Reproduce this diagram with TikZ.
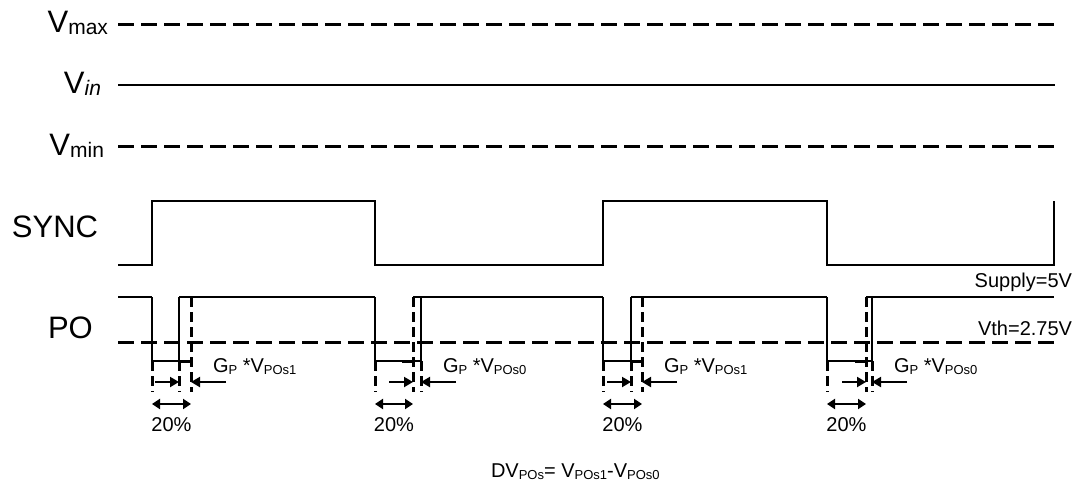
\documentclass[tikz,border=0pt]{standalone}
\usepackage{fontspec}
\setmainfont{Liberation Sans}
\usetikzlibrary{arrows.meta}
\newcommand{\bigtxt}[1]{{\fontsize{31}{31}\selectfont #1}}
\newcommand{\bsub}[1]{\raisebox{-2pt}{\fontsize{21}{21}\selectfont #1}}
\newcommand{\smtxt}[1]{{\fontsize{20}{20}\selectfont #1}}
\newcommand{\lsub}[1]{\raisebox{-2pt}{\fontsize{13}{13}\selectfont #1}}
\tikzset{
  sig/.style={line width=2pt},
  hdash/.style={line width=3pt, dash pattern=on 16pt off 7pt},
  vdash/.style={line width=3pt, dash pattern=on 10pt off 5pt},
  arr/.style={line width=2pt, -{Triangle[length=9pt,width=10pt]}},
  darr/.style={line width=2pt, {Triangle[length=8pt,width=10pt]}-{Triangle[length=8pt,width=10pt]}},
  lbl/.style={inner sep=0pt, outer sep=0pt},
}
\begin{document}
\begin{tikzpicture}[x=1pt,y=-1pt]
\useasboundingbox (0,0) rectangle (1078,488);
% left labels
\node[lbl, anchor=base east] (vmax) at (108,32) {\bigtxt{V}\bsub{max}};
\node[lbl, anchor=base east] (vin) at (101,93) {\bigtxt{V}\bsub{\itshape in}};
\node[lbl, anchor=base east] (vmin) at (104,155) {\bigtxt{V}\bsub{min}};
\node[lbl, anchor=base west] (sync) at (12,237) {\bigtxt{SYNC}};
\node[lbl, anchor=base west] (po) at (48,338) {\bigtxt{PO}};
% reference levels
\coordinate (vmaxA) at (118,24); \coordinate (vmaxB) at (1055,24);
\coordinate (vinA) at (118,85); \coordinate (vinB) at (1055,85);
\coordinate (vminA) at (118,146); \coordinate (vminB) at (1055,146);
\coordinate (vthA) at (118,342); \coordinate (vthB) at (1054,342);
\draw[hdash] (vmaxA) -- (vmaxB);
\draw[sig] (vinA) -- (vinB);
\draw[hdash] (vminA) -- (vminB);
\draw[hdash] (vthA) -- (vthB);
% SYNC
\draw[sig] (118,265) -- (152,265) -- (152,201) -- (375,201) -- (375,265) -- (603,265)
  -- (603,201) -- (827,201) -- (827,265) -- (1054,265) -- (1054,201);
% PO top segments
\draw[sig] (118,297) -- (152,297);
\draw[sig] (179,297) -- (375,297);
\draw[sig] (413,297) -- (603,297);
\draw[sig] (631,297) -- (827,297);
\draw[sig] (866,297) -- (1054,297);
% pulses
\foreach \f/\s/\d/\lab in {152/179/191/1, 375/421/413/0, 603/631/642/1, 827/872/866/0}{
  \pgfmathsetmacro\a{min(\s,\d)}
  \pgfmathsetmacro\b{max(\s,\d)}
  \pgfmathsetmacro\m{(\f+\d)/2}
  \draw[sig] (\f,297) -- (\f,361) -- (\b,361);
  \draw[sig] (\s,361) -- (\s,297);
  \draw[line width=3pt] (\d-11,361) -- (\d,361);
  \draw[vdash] (\d,297) -- (\d,392);
  \draw[vdash] (\f,361) -- (\f,392);
  \draw[vdash] (\s,361) -- (\s,392);
  \draw[arr] (\a-24,382) -- (\a,382);
  \draw[arr] (\b+35,382) -- (\b,382);
  \draw[darr] (\f,404) -- (\d,404);
  \node[lbl, anchor=base west] at (\b+22,372) {\smtxt{G\lsub{P} *V\lsub{POs\lab}}};
  \node[lbl, anchor=base] at (\m,431) {\smtxt{20\%}};
}
% right labels
\node[lbl, anchor=base east] (supply) at (1072,287) {\smtxt{Supply=5V}};
\node[lbl, anchor=base east] (vth) at (1072,335) {\smtxt{Vth=2.75V}};
% formula
\node[lbl, anchor=base west] (dv) at (491,477) {\smtxt{DV\lsub{POs}= V\lsub{POs1}-V\lsub{POs0}}};
\end{tikzpicture}
\end{document}
